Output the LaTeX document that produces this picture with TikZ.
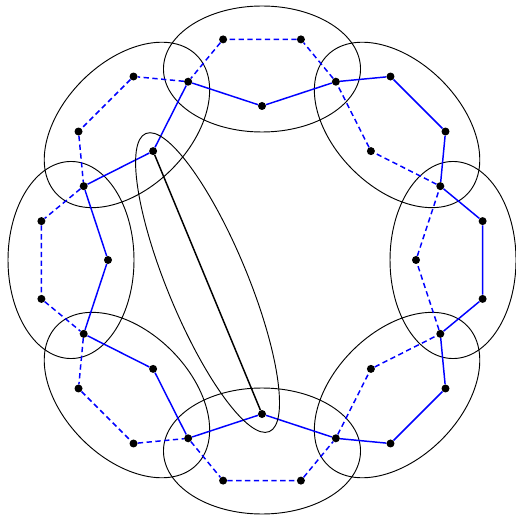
\documentclass[tikz,border=0pt]{standalone}
\begin{document}
\begin{tikzpicture}[x=0.75pt,y=0.75pt,
  dot/.style={circle,fill=black,inner sep=0pt,minimum size=6pt},
  ring/.style={draw=black,line width=0.7pt},
  solidpath/.style={draw=blue,line width=1.1pt},
  dashpath/.style={draw=blue,line width=1.1pt,dash pattern=on 4pt off 2.6pt},
  chord/.style={draw=black,line width=1.1pt}]
\useasboundingbox (0,0) rectangle (516,514);
\begin{scope}[shift={(262,254)}]
  % ring of ellipses
  \foreach \k in {0,...,7}{
    \pgfmathsetmacro\a{45*\k}
    \draw[ring,rotate=\a] (191,0) ellipse [x radius=47.25pt, y radius=73.9pt];
  }
  % points
  \foreach \k in {0,...,7}{
    \pgfmathsetmacro\a{45*\k}
    \pgfmathsetmacro\aj{45*\k+22.5}
    \pgfmathsetmacro\ap{45*\k-10}
    \pgfmathsetmacro\aq{45*\k+10}
    \node[dot] (i\k) at (\a:154) {};
    \node[dot] (j\k) at (\aj:193) {};
    \node[dot] (p\k) at (\ap:224) {};
    \node[dot] (q\k) at (\aq:224) {};
  }
  % paths through ellipses with the solid branch inside
  \foreach \k in {2,3,4,5,6}{
    \pgfmathtruncatemacro\m{mod(\k+7,8)}
    \draw[solidpath] (j\m) -- (i\k) -- (j\k);
    \draw[dashpath] (j\m) -- (p\k) -- (q\k) -- (j\k);
  }
  % paths through ellipses with the solid branch outside
  \foreach \k in {0,1,7}{
    \pgfmathtruncatemacro\m{mod(\k+7,8)}
    \draw[solidpath] (j\m) -- (p\k) -- (q\k) -- (j\k);
    \draw[dashpath] (j\m) -- (i\k) -- (j\k);
  }
  % chord and its ellipse
  \coordinate (mid) at (-54.45,-22.55);
  \draw[ring,rotate around={-67.5:(mid)}] (mid) ellipse [x radius=121pt, y radius=30pt];
  \draw[chord] (i3) -- (i6);
\end{scope}
\end{tikzpicture}
\end{document}
